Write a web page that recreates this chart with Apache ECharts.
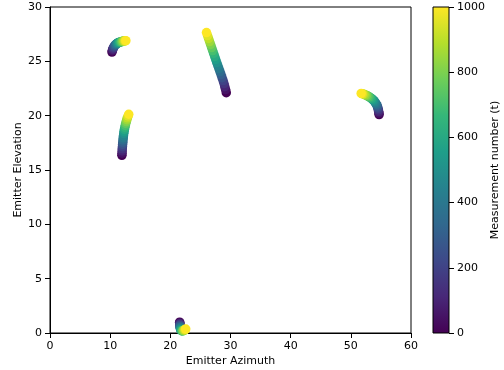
<!DOCTYPE html>
<html>
<head>
<meta charset="utf-8">
<script src="https://cdn.jsdelivr.net/npm/echarts@6/dist/echarts.min.js"></script>
<style>html,body{margin:0;padding:0;background:#fff;overflow:hidden}#c{width:504px;height:370px}</style>
</head>
<body>
<div id="c"></div>
<script>
// Each point: [azimuth, elevation, measurement number t]
const trackA = [[10.30,25.85,0],[10.36,25.98,50],[10.43,26.10,100],[10.51,26.21,150],[10.60,26.31,200],[10.70,26.40,250],[10.81,26.48,300],[10.93,26.55,350],[11.05,26.61,400],[11.18,26.66,450],[11.31,26.70,500],[11.44,26.73,550],[11.57,26.76,600],[11.70,26.78,650],[11.83,26.80,700],[11.96,26.82,750],[12.09,26.84,800],[12.22,26.86,850],[12.35,26.87,900],[12.48,26.89,950],[12.61,26.90,1000]];
const trackB = [[11.95,16.35,0],[11.97,16.55,50],[11.99,16.75,100],[12.01,16.95,150],[12.04,17.15,200],[12.07,17.35,250],[12.10,17.55,300],[12.13,17.75,350],[12.17,17.95,400],[12.21,18.15,450],[12.26,18.35,500],[12.31,18.54,550],[12.37,18.73,600],[12.44,18.92,650],[12.51,19.10,700],[12.59,19.28,750],[12.68,19.46,800],[12.77,19.63,850],[12.87,19.80,900],[12.98,19.97,950],[13.09,20.13,1000]];
const trackC = [[29.30,22.12,0],[29.18,22.40,50],[29.05,22.67,100],[28.92,22.95,150],[28.77,23.23,200],[28.60,23.50,250],[28.43,23.78,300],[28.25,24.06,350],[28.07,24.33,400],[27.89,24.61,450],[27.71,24.89,500],[27.54,25.16,550],[27.37,25.44,600],[27.20,25.72,650],[27.03,25.99,700],[26.86,26.27,750],[26.69,26.55,800],[26.52,26.82,850],[26.35,27.10,900],[26.18,27.37,950],[26.01,27.65,1000]];
const trackD = [[54.70,20.10,0],[54.67,20.24,50],[54.63,20.38,100],[54.58,20.52,150],[54.52,20.66,200],[54.45,20.79,250],[54.37,20.92,300],[54.26,21.04,350],[54.13,21.16,400],[53.98,21.27,450],[53.82,21.38,500],[53.64,21.48,550],[53.45,21.57,600],[53.25,21.65,650],[53.04,21.73,700],[52.82,21.80,750],[52.60,21.86,800],[52.38,21.92,850],[52.16,21.97,900],[51.94,22.01,950],[51.72,22.05,1000]];
const trackE = [[21.55,1.00,0],[21.56,0.93,50],[21.57,0.86,100],[21.58,0.79,150],[21.59,0.72,200],[21.60,0.65,250],[21.62,0.58,300],[21.64,0.51,350],[21.66,0.45,400],[21.69,0.39,450],[21.72,0.33,500],[21.77,0.28,550],[21.83,0.24,600],[21.90,0.21,650],[21.98,0.20,700],[22.07,0.20,750],[22.16,0.22,800],[22.26,0.25,850],[22.36,0.28,900],[22.46,0.32,950],[22.56,0.36,1000]];
const tracks = [trackA, trackB, trackC, trackD, trackE];
const xTicks = [0,10,20,30,40,50,60];
const yTicks = [0,5,10,15,20,25,30];
const cTicks = [0,200,400,600,800,1000];
const viridis = ['#440154','#482878','#3e4989','#31688e','#26828e','#1f9e89','#35b779','#6ece58','#b5de2b','#fde725'];

const FONT = 'DejaVu Sans';
const txt = {fontFamily: FONT, fontSize: 11, color: '#000'};
const chart = echarts.init(document.getElementById('c'), null, {renderer: 'canvas'});
const series = tracks.map(t => ({
  type: 'scatter', xAxisIndex: 0, yAxisIndex: 0, data: t,
  symbolSize: 9.5, itemStyle: {opacity: 1}, clip: true, silent: true
}));
// colour bar: one bar spanning the colour scale range, filled with the viridis gradient
const cbStops = viridis.map((c, i) => ({offset: i / (viridis.length - 1), color: c}));
series.push({
  type: 'bar', xAxisIndex: 1, yAxisIndex: 1, data: [cTicks[cTicks.length-1]], barWidth: '100%', silent: true,
  itemStyle: {color: new echarts.graphic.LinearGradient(0, 1, 0, 0, cbStops)}
});
chart.setOption({
  animation: false,
  grid: [
    {left: 50, top: 7, width: 361, height: 326, show: true, borderColor: '#000', borderWidth: 1, backgroundColor: 'transparent', containLabel: false, outerBoundsMode: 'none'},
    {left: 433, top: 7, width: 16, height: 326, show: true, borderColor: '#000', borderWidth: 1, backgroundColor: 'transparent', z: 10, containLabel: false, outerBoundsMode: 'none'}
  ],
  xAxis: [
    {type: 'value', gridIndex: 0, min: xTicks[0], max: xTicks[xTicks.length-1], interval: 10,
     name: 'Emitter Azimuth', nameLocation: 'middle', nameGap: 23, nameMoveOverlap: false, nameTextStyle: txt,
     axisLine: {show: true, onZero: false, lineStyle: {color: '#000'}},
     axisTick: {show: true, length: 5, lineStyle: {color: '#000'}},
     axisLabel: Object.assign({margin: 8, formatter: v => String(v)}, txt), splitLine: {show: false}},
    {type: 'category', gridIndex: 1, data: ['cb'], show: false, boundaryGap: true}
  ],
  yAxis: [
    {type: 'value', gridIndex: 0, min: yTicks[0], max: yTicks[yTicks.length-1], interval: 5,
     name: 'Emitter Elevation', nameLocation: 'middle', nameGap: 26, nameMoveOverlap: false, nameTextStyle: txt,
     axisLine: {show: true, onZero: false, lineStyle: {color: '#000'}},
     axisTick: {show: true, length: 5, lineStyle: {color: '#000'}},
     axisLabel: Object.assign({margin: 8, formatter: v => String(v)}, txt), splitLine: {show: false}},
    {type: 'value', gridIndex: 1, min: cTicks[0], max: cTicks[cTicks.length-1], interval: 200, position: 'right',
     name: 'Measurement number (t)', nameLocation: 'middle', nameGap: 41, nameMoveOverlap: false, nameTextStyle: txt,
     axisLine: {show: false},
     axisTick: {show: true, length: 5, lineStyle: {color: '#000'}},
     axisLabel: Object.assign({margin: 8, formatter: v => String(v)}, txt), splitLine: {show: false}}
  ],
  visualMap: {
    type: 'continuous', min: 0, max: 1000, dimension: 2, seriesIndex: [0,1,2,3,4],
    inRange: {color: viridis}, show: false
  },
  series: series
});
</script>
</body>
</html>
